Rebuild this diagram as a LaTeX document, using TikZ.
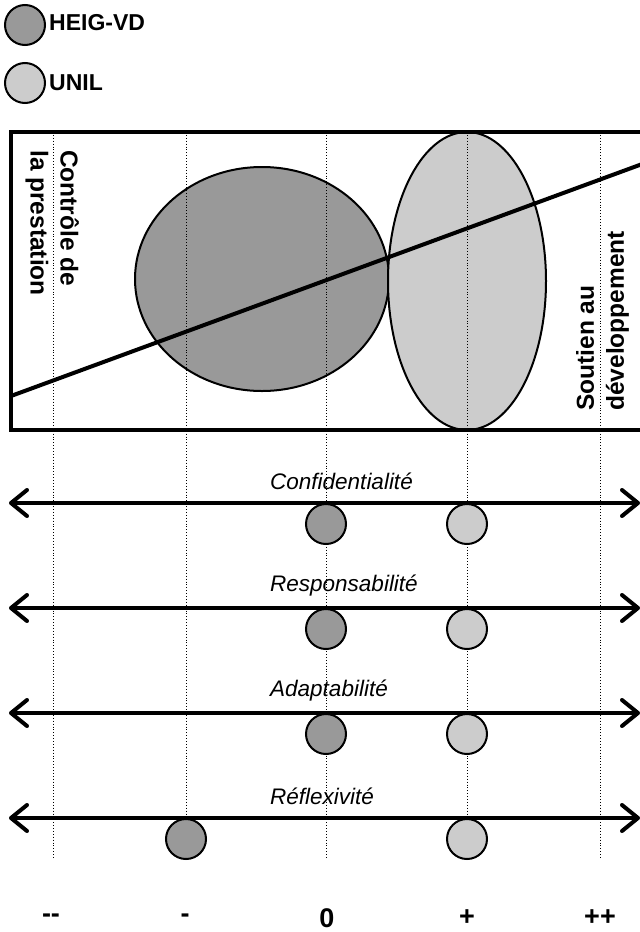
\documentclass[tikz,border=0pt]{standalone}
\usepackage{fontspec}
\setmainfont{Liberation Sans}
\usetikzlibrary{arrows.meta}

\begin{document}
\begin{tikzpicture}[x = {(1pt,0)}, y = {(0,-1pt)},
	heig/.style={fill=heiggray, draw=black, line width=2pt},
	unil/.style={fill=unilgray, draw=black, line width=2pt},
	dot/.style={circle, inner sep=0pt, minimum size=40pt},
	guide/.style={dotted, line width=0.9pt},
	frame/.style={line width=4pt},
	scale axis/.style={<->, line width=4pt, >={Straight Barb[length=16pt, width=26pt, round]}},
	legendtext/.style={font=\fontsize{23}{27}\selectfont\bfseries, anchor=west, inner sep=0pt},
	pole/.style={font=\fontsize{24.5}{30}\selectfont\bfseries, align=left, inner sep=0pt},
	criterion/.style={font=\fontsize{22.5}{27}\selectfont\itshape, anchor=west, inner sep=0pt},
	ticklabel/.style={font=\fontsize{27}{31}\selectfont\bfseries, inner sep=0pt}
	]
	\definecolor{heiggray}{RGB}{153,153,153}
	\definecolor{unilgray}{RGB}{204,204,204}
	
	% Page
	\useasboundingbox (0,0) rectangle (640,932);
	\clip (0,0) rectangle (640,932);
	
	% Legend
	\node[heig, dot] (heigmark) at (25,25) {};
	\node[legendtext] (heiglabel) at (49,23) {HEIG-VD};
	\node[unil, dot] (unilmark) at (25,83) {};
	\node[legendtext] (unillabel) at (49,83) {UNIL};
	
	% Ellipses
	\draw[heig] (262,279) ellipse[x radius=127pt, y radius=112pt];
	\draw[unil] (467,281) ellipse[x radius=79pt, y radius=149pt];
	
	% Trend line and box
	\draw[frame] (11,396) -- (645,163);
	\draw[frame] (11,132) rectangle (660,430);
	
	% Poles
	\node[pole, rotate=-90, anchor=north west] (control) at (79,150) {Contrôle de\\la prestation};
	\node[pole, rotate=90, anchor=north west] (support) at (576,411) {Soutien au\\développement};
	
	% Dotted guides
	\draw[guide] (53,132) -- (53,858);
	\draw[guide] (186,132) -- (186,858);
	\draw[guide] (326,132) -- (326,858);
	\draw[guide] (467,132) -- (467,858);
	\draw[guide] (600,132) -- (600,858);
	
	% Confidentialite
	\coordinate (confleft) at (9,503);
	\coordinate (confright) at (640,503);
	\draw[scale axis] (confleft) -- (confright);
	\node[criterion] (conf) at (270,481) {Confidentialité};
	\node[heig, dot] (confheig) at (326,524) {};
	\node[unil, dot] (confunil) at (467,524) {};
	
	% Responsabilite
	\coordinate (respleft) at (9,608);
	\coordinate (respright) at (640,608);
	\draw[scale axis] (respleft) -- (respright);
	\node[criterion] (resp) at (270,586) {Responsabilité};
	\node[heig, dot] (respheig) at (326,629) {};
	\node[unil, dot] (respunil) at (467,629) {};
	
	% Adaptabilite
	\coordinate (adaptleft) at (9,713);
	\coordinate (adaptright) at (640,713);
	\draw[scale axis] (adaptleft) -- (adaptright);
	\node[criterion] (adapt) at (270,691) {Adaptabilité};
	\node[heig, dot] (adaptheig) at (326,734) {};
	\node[unil, dot] (adaptunil) at (467,734) {};
	
	% Reflexivite
	\coordinate (reflleft) at (9,818);
	\coordinate (reflright) at (640,818);
	\draw[scale axis] (reflleft) -- (reflright);
	\node[criterion] (refl) at (270,796) {Réflexivité};
	\node[heig, dot] (reflheig) at (186,839) {};
	\node[unil, dot] (reflunil) at (467,839) {};
	
	% Scale labels
	\node[ticklabel] (mm) at (51,918) {-\kern0pt-};
	\node[ticklabel] (m) at (185,918) {-};
	\node[ticklabel] (z) at (327,918) {0};
	\node[ticklabel] (p) at (467,918) {+};
	\node[ticklabel] (pp) at (600,918) {++};
	
\end{tikzpicture}
\end{document}
